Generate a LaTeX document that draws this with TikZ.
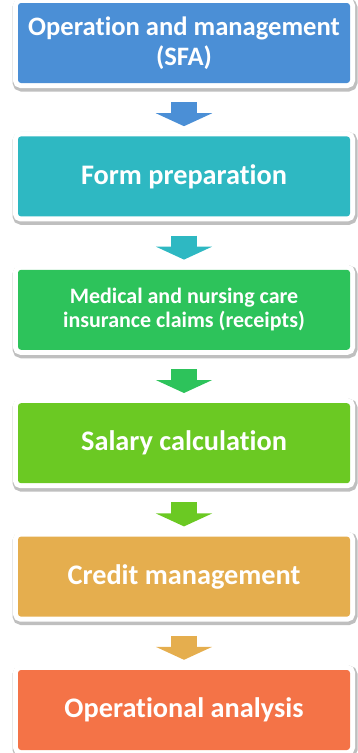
\documentclass[tikz,border=0pt]{standalone}
\usepackage{fontspec}
\setmainfont{Carlito}[Ligatures=NoCommon]
\usetikzlibrary{arrows.meta, positioning}

\definecolor{opBlue}{HTML}{4B8FD6}
\definecolor{formTeal}{HTML}{2EB8C2}
\definecolor{claimGreen}{HTML}{2DC35B}
\definecolor{salaryLime}{HTML}{6BC923}
\definecolor{creditGold}{HTML}{E5AE4E}
\definecolor{analysisOrange}{HTML}{F47347}

\begin{document}
\begin{tikzpicture}
		\tikzstyle{StageBox} = [rectangle, rounded corners=3pt, minimum width=332pt, minimum height=80pt, text centered, text=white, font=\bfseries\fontsize{28.3}{32}\selectfont, preaction={draw=black!25, line width=13pt, transform canvas={shift={(1pt,-2pt)}}}, preaction={draw=white, line width=10pt}]
		\tikzstyle{flow} = [line width=26pt, -{Triangle[length=13pt, width=56pt]}, shorten <=19pt, shorten >=10pt]
		
		\useasboundingbox (0,0) rectangle (358pt,-753pt);
		
		\node (opSfa) [StageBox, fill=opBlue, align=center, font=\bfseries\fontsize{26.6}{30}\selectfont] at (184pt,-43pt) {Operation and management\\(SFA)};
		\node (formPrep) [StageBox, fill=formTeal, below = 53pt of opSfa] {Form preparation};
		\node (claims) [StageBox, fill=claimGreen, below = 53pt of formPrep, align=center, font=\bfseries\fontsize{22}{24}\selectfont] {Medical and nursing care\\insurance claims (receipts)};
		\node (salary) [StageBox, fill=salaryLime, below = 53pt of claims] {Salary calculation};
		\node (credit) [StageBox, fill=creditGold, below = 53pt of salary] {Credit management};
		\node (analysis) [StageBox, fill=analysisOrange, below = 53pt of credit] {Operational analysis};
		
		\draw[flow, opBlue] (opSfa) -- (formPrep);
		\draw[flow, formTeal] (formPrep) -- (claims);
		\draw[flow, claimGreen] (claims) -- (salary);
		\draw[flow, salaryLime] (salary) -- (credit);
		\draw[flow, creditGold] (credit) -- (analysis);
		\end{tikzpicture}
\end{document}
